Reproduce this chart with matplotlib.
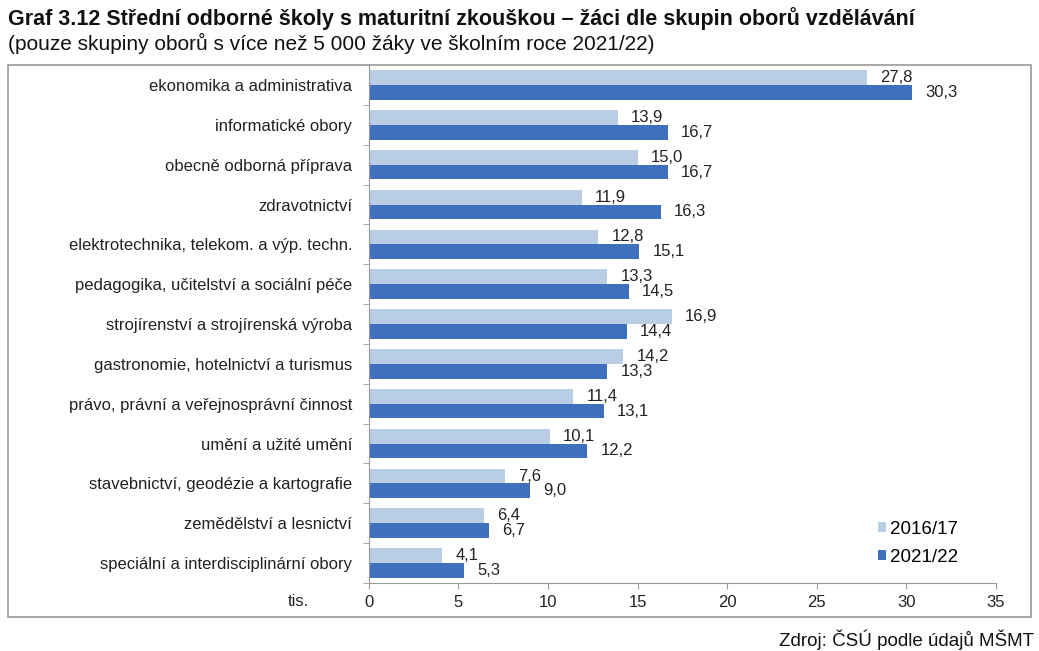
import matplotlib.pyplot as plt
from matplotlib.patches import Rectangle

# Data (thousands of students)
categories = [
    'ekonomika a administrativa',
    'informatické obory',
    'obecně odborná příprava',
    'zdravotnictví',
    'elektrotechnika, telekom. a výp. techn.',
    'pedagogika, učitelství a sociální péče',
    'strojírenství a strojírenská výroba',
    'gastronomie, hotelnictví a turismus',
    'právo, právní a veřejnosprávní činnost',
    'umění a užité umění',
    'stavebnictví, geodézie a kartografie',
    'zemědělství a lesnictví',
    'speciální a interdisciplinární obory',
]
values_2016 = [27.8, 13.9, 15.0, 11.9, 12.8, 13.3, 16.9, 14.2, 11.4, 10.1, 7.6, 6.4, 4.1]
values_2021 = [30.3, 16.7, 16.7, 16.3, 15.1, 14.5, 14.4, 13.3, 13.1, 12.2, 9.0, 6.7, 5.3]
x_ticks = [0, 5, 10, 15, 20, 25, 30, 35]

light = '#B9CDE5'
dark = '#3F70BE'
text_col = '#222222'

plt.rcParams['font.family'] = ['Liberation Sans', 'DejaVu Sans']

fig = plt.figure(figsize=(10.39, 6.51), dpi=100)

# frame around the chart
fig.patches.append(Rectangle((0.008, 0.052), 0.984, 0.848, transform=fig.transFigure,
                             fill=False, edgecolor='#9a9a9a', linewidth=1.2))

ax = fig.add_axes([0.355, 0.1045, 0.6035, 0.7955])

n = len(categories)
pos = list(range(n))
h = 0.37
ax.barh([p - h / 2 for p in pos], values_2016, height=h, color=light, label='2016/17')
ax.barh([p + h / 2 for p in pos], values_2021, height=h, color=dark, label='2021/22')

# value labels with decimal comma
for p, v in zip(pos, values_2016):
    ax.annotate(f'{v:.1f}'.replace('.', ','), (v, p - h / 2), xytext=(9.5, 0),
                textcoords='offset points', ha='left', va='center', fontsize=12, color=text_col)
for p, v in zip(pos, values_2021):
    ax.annotate(f'{v:.1f}'.replace('.', ','), (v, p + h / 2), xytext=(9.5, 0),
                textcoords='offset points', ha='left', va='center', fontsize=12, color=text_col)

ax.set_ylim(n - 0.5, -0.5)
ax.set_xlim(0, 35)
ax.set_xticks(x_ticks)
ax.set_xticklabels([str(t) for t in x_ticks], fontsize=12, color=text_col)
ax.set_yticks(pos)
ax.set_yticklabels(categories, fontsize=12, color=text_col)
ax.tick_params(axis='y', length=0, pad=12)
ax.set_yticks([p + 0.5 for p in range(-1, n)], minor=True)
ax.tick_params(axis='y', which='minor', length=4, color='#999999')
ax.tick_params(axis='x', length=4, color='#999999', pad=5)

for s in ['top', 'right']:
    ax.spines[s].set_visible(False)
for s in ['left', 'bottom']:
    ax.spines[s].set_color('#999999')

ax.text(-0.095, -0.022, 'tis.', transform=ax.transAxes, ha='right', va='top',
        fontsize=12, color=text_col)

ax.legend(loc='lower right', bbox_to_anchor=(0.967, 0.0), frameon=False, fontsize=13.5,
          handlelength=0.45, handleheight=0.45, handletextpad=0.2, labelspacing=0.6)

fig.text(0.008, 0.972, 'Graf 3.12 Střední odborné školy s maturitní zkouškou – žáci dle skupin oborů vzdělávání',
         fontsize=15.5, fontweight='bold', ha='left', va='center', color='#111111')
fig.text(0.008, 0.933, '(pouze skupiny oborů s více než 5 000 žáky ve školním roce 2021/22)',
         fontsize=15, ha='left', va='center', color='#111111')
fig.text(0.995, 0.017, 'Zdroj: ČSÚ podle údajů MŠMT', fontsize=13.5, ha='right', va='center',
         color='#111111')

fig.savefig('out.png', dpi=100)
